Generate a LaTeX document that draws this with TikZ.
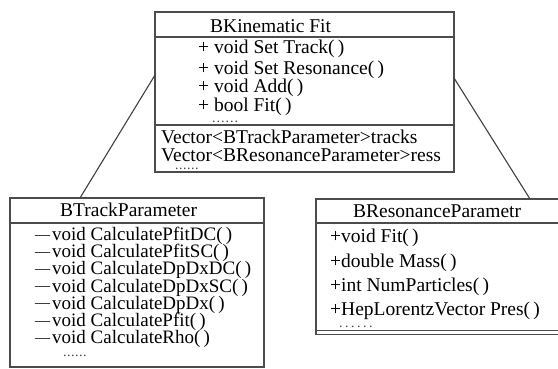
\documentclass[tikz,border=0pt]{standalone}
\usepackage{fontspec}
\setmainfont{Liberation Serif}
% a row of six small dots, #1 = gap between dots
\newcommand{\dotrow}[1]{.\kern#1.\kern#1.\kern#1.\kern#1.\kern#1.}
% private-member mark in front of a method
\newcommand{\privmark}{\raisebox{1.5pt}{\fontsize{15}{15}\selectfont —}\kern2pt}
\begin{document}
\begin{tikzpicture}[x=1pt,y=-1pt,
  frame/.style={draw=black!70, line width=1.3pt, inner sep=0pt, outer sep=0pt},
  divider/.style={draw=black!70, line width=1.3pt},
  txt/.style={anchor=base west, inner sep=0pt, text=black,
    font=\fontsize{19.5}{20}\selectfont},
  ltxt/.style={txt, font=\fontsize{19}{20}\selectfont},
  dotstxt/.style={anchor=base west, inner sep=0pt, text=black!75,
    font=\fontsize{14}{14}\selectfont},
  link/.style={draw=black!75, line width=1.1pt}]
\useasboundingbox[fill=white] (0,0) rectangle (558,369);

% class frames
\node[frame, minimum width=299pt, minimum height=160pt] (kin) at (304.5,92) {};
\node[frame, minimum width=254pt, minimum height=169pt] (trk) at (137,282.5) {};
\node[frame, minimum width=246pt, minimum height=135.5pt] (res) at (439,266.75) {};

% compartment dividers
\draw[divider] (kin.west |- 0,37) -- (kin.east |- 0,37);
\draw[divider] (kin.west |- 0,125) -- (kin.east |- 0,125);
\draw[divider] (trk.west |- 0,223) -- (trk.east |- 0,223);
\draw[divider] (res.west |- 0,223) -- (res.east |- 0,223);
\draw[divider] (res.west |- 0,330.5) -- (res.east |- 0,330.5);

% BKinematic Fit
\node[txt] (k0) at (210,33) {BKinematic Fit};
\node[txt] (k1) at (198,54) {+ void Set Track(\,)};
\node[txt] (k2) at (198,74.5) {+ void Set Resonance(\,)};
\node[txt] (k3) at (198,93) {+ void Add(\,)};
\node[txt] (k4) at (198,112) {+ bool Fit(\,)};
\node[dotstxt] (k5) at (212,122.5) {\dotrow{1pt}};
\node[txt] (k6) at (161,143) {Vector<BTrackParameter>tracks};
\node[txt] (k7) at (161,162) {Vector<BResonanceParameter>ress};
\node[dotstxt] (k8) at (175,169.5) {\dotrow{0.5pt}};

% BTrackParameter
\node[txt] (t0) at (60,216.5) {BTrackParameter};
\node[ltxt] (t1) at (35,240.5) {\privmark void CalculatePfitDC(\,)};
\node[ltxt] (t2) at (35,257.7) {\privmark void CalculatePfitSC(\,)};
\node[ltxt] (t3) at (35,274.9) {\privmark void CalculateDpDxDC(\,)};
\node[ltxt] (t4) at (35,292.1) {\privmark void CalculateDpDxSC(\,)};
\node[ltxt] (t5) at (35,309.3) {\privmark void CalculateDpDx(\,)};
\node[ltxt] (t6) at (35,326.5) {\privmark void CalculatePfit(\,)};
\node[ltxt] (t7) at (35,343.7) {\privmark void CalculateRho(\,)};
\node[dotstxt] (t8) at (63,356) {\dotrow{0.5pt}};

% BResonanceParametr
\node[txt] (r0) at (353,218) {BResonanceParametr};
\node[txt] (r1) at (330,242.7) {+void Fit(\,)};
\node[txt] (r2) at (330,267.2) {+double Mass(\,)};
\node[txt] (r3) at (330,291.5) {+int NumParticles(\,)};
\node[txt] (r4) at (330,315) {+HepLorentzVector Pres(\,)};
\node[dotstxt] (r5) at (339,327) {\dotrow{2.5pt}};

% associations
\coordinate (kinL) at ([yshift=17pt]kin.west);
\coordinate (kinR) at ([yshift=14pt]kin.east);
\coordinate (trkT) at ([xshift=70pt]trk.north west);
\coordinate (resT) at ([xshift=214pt]res.north west);
\draw[link] (kinL) -- (trkT);
\draw[link] (kinR) -- (resT);
\end{tikzpicture}
\end{document}
